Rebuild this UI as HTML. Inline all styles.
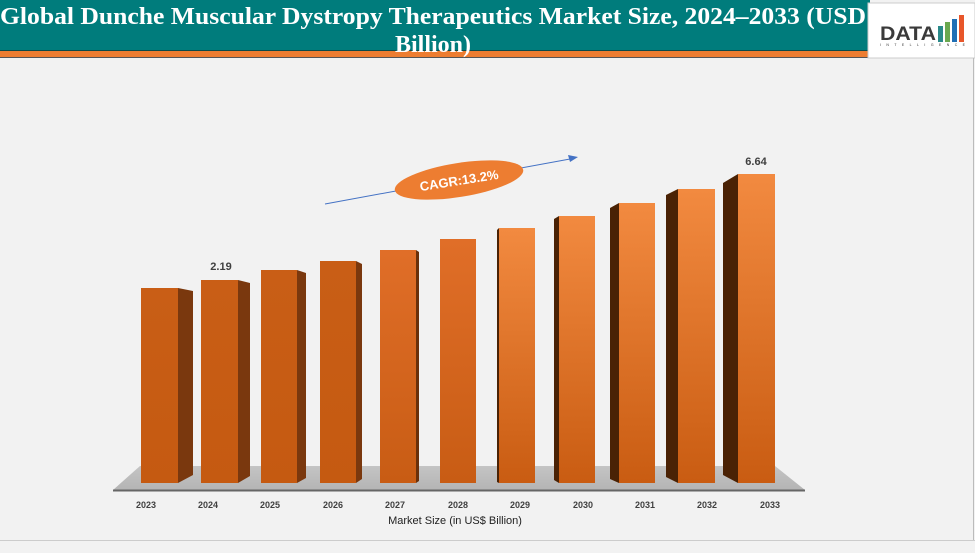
<!DOCTYPE html>
<html><head><meta charset="utf-8"><style>
html,body{margin:0;padding:0;background:#f2f2f2;}
body{width:975px;height:548px;overflow:hidden;position:relative;font-family:"Liberation Sans",sans-serif;}
</style></head><body>
<svg width="975" height="548" viewBox="0 0 975 548" xmlns="http://www.w3.org/2000/svg">
<defs>
<linearGradient id="g0" x1="0" y1="0" x2="0" y2="1"><stop offset="0" stop-color="#c95e16"/><stop offset="1" stop-color="#c55a11"/></linearGradient>
<linearGradient id="g1" x1="0" y1="0" x2="0" y2="1"><stop offset="0" stop-color="#e06e28"/><stop offset="1" stop-color="#c85c14"/></linearGradient>
<linearGradient id="g2" x1="0" y1="0" x2="0" y2="1"><stop offset="0" stop-color="#f28a40"/><stop offset="1" stop-color="#c95c12"/></linearGradient>
<linearGradient id="floor" x1="0" y1="0" x2="0" y2="1"><stop offset="0" stop-color="#c4c4c4"/><stop offset="1" stop-color="#b4b4b4"/></linearGradient>
</defs>
<rect width="975" height="548" fill="#f2f2f2"/>
<!-- header -->
<rect x="0" y="0" width="870" height="51" fill="#007c7c"/>
<rect x="0" y="51" width="870" height="6" fill="#ed7d31"/>
<line x1="0" y1="57.5" x2="870" y2="57.5" stroke="#555" stroke-width="1"/>
<line x1="0" y1="50.5" x2="870" y2="50.5" stroke="#0a4a4a" stroke-width="1"/>
<text x="433" y="24" text-anchor="middle" fill="#fff" font-family="Liberation Serif,serif" font-size="24" font-weight="bold" textLength="866" lengthAdjust="spacingAndGlyphs">Global Dunche Muscular Dystropy Therapeutics Market Size, 2024–2033 (USD</text>
<text x="433" y="52" text-anchor="middle" fill="#fff" font-family="Liberation Serif,serif" font-size="24" font-weight="bold">Billion)</text>
<!-- logo -->
<rect x="868" y="3" width="107" height="55" fill="#fff" stroke="#ccc"/>
<text x="880" y="40" font-family="Liberation Sans,sans-serif" font-size="19" font-weight="bold" fill="#3a3a3a" textLength="56" lengthAdjust="spacingAndGlyphs">DATA</text>
<rect x="938" y="26" width="5" height="16" fill="#2a8a8a"/>
<rect x="945" y="22" width="5" height="20" fill="#6aa84f"/>
<rect x="952" y="19" width="5" height="23" fill="#1f6fb5"/>
<rect x="959" y="15" width="5" height="27" fill="#e8562a"/>
<text x="880" y="46" font-size="3.5" fill="#333" textLength="85" lengthAdjust="spacing">INTELLIGENCE</text>
<line x1="973.5" y1="58" x2="973.5" y2="540" stroke="#bbb"/>
<line x1="0" y1="540.5" x2="975" y2="540.5" stroke="#ccc"/>
<!-- floor -->
<polygon points="140,466 775,466 805,490 113,490" fill="url(#floor)"/>
<line x1="113" y1="490.5" x2="805" y2="490.5" stroke="#666" stroke-width="2"/>
<!-- bars -->
<g>
<polygon points="178,288 193,291 193,475 178,483" fill="#7a380e"/>
<rect x="141" y="288" width="37" height="195" fill="url(#g0)"/>
<polygon points="238,280 250,283 250,476 238,483" fill="#7a380e"/>
<rect x="201" y="280" width="37" height="203" fill="url(#g0)"/>
<polygon points="297,270 306,273 306,478 297,483" fill="#7a380e"/>
<rect x="261" y="270" width="36" height="213" fill="url(#g0)"/>
<polygon points="356,261 362,264 362,479 356,483" fill="#7a380e"/>
<rect x="320" y="261" width="36" height="222" fill="url(#g0)"/>
<polygon points="416,250 419,252 419,481 416,483" fill="#6a300a"/>
<rect x="380" y="250" width="36" height="233" fill="url(#g1)"/>
<rect x="440" y="239" width="36" height="244" fill="url(#g1)"/>
<polygon points="499,228 497,230 497,482 499,483" fill="#4a2205"/>
<rect x="499" y="228" width="36" height="255" fill="url(#g2)"/>
<polygon points="559,216 554,219 554,480 559,483" fill="#4a2205"/>
<rect x="559" y="216" width="36" height="267" fill="url(#g2)"/>
<polygon points="619,203 610,208 610,479 619,483" fill="#4a2205"/>
<rect x="619" y="203" width="36" height="280" fill="url(#g2)"/>
<polygon points="678,189 666,195 666,477 678,483" fill="#4a2205"/>
<rect x="678" y="189" width="37" height="294" fill="url(#g2)"/>
<polygon points="738,174 723,183 723,475 738,483" fill="#4a2205"/>
<rect x="738" y="174" width="37" height="309" fill="url(#g2)"/>
</g>
<text x="221" y="270" text-anchor="middle" font-size="11" font-weight="bold" fill="#404040">2.19</text>
<text x="756" y="165" text-anchor="middle" font-size="11" font-weight="bold" fill="#404040">6.64</text>
<!-- x labels -->
<g font-size="9" font-weight="bold" fill="#404040" text-anchor="middle">
<text x="146" y="508">2023</text><text x="208" y="508">2024</text><text x="270" y="508">2025</text><text x="333" y="508">2026</text><text x="395" y="508">2027</text><text x="458" y="508">2028</text><text x="520" y="508">2029</text><text x="583" y="508">2030</text><text x="645" y="508">2031</text><text x="707" y="508">2032</text><text x="770" y="508">2033</text>
</g>
<text x="455" y="524" text-anchor="middle" font-size="11" fill="#222">Market Size (in US$ Billion)</text>
<!-- CAGR -->
<line x1="325" y1="204" x2="570" y2="159" stroke="#4472c4" stroke-width="1"/>
<polygon points="578,157 568,155 570,162" fill="#4472c4"/>
<ellipse cx="459" cy="180" rx="65" ry="17" transform="rotate(-9 459 180)" fill="#ed7d31"/>
<text x="459" y="185" text-anchor="middle" font-size="13" font-weight="bold" fill="#fff" transform="rotate(-9 459 180)">CAGR:13.2%</text>
</svg>
</body></html>
